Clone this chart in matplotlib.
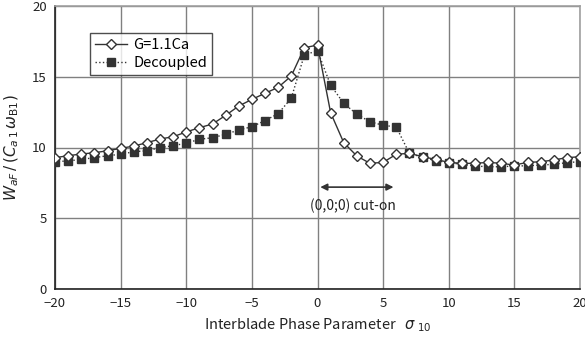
import matplotlib
matplotlib.use("Agg")
import matplotlib.pyplot as plt

sigma = list(range(-20, 21))
coupled = [9.28, 9.42, 9.54, 9.63, 9.77, 9.94, 10.1, 10.34, 10.6, 10.76,
           11.1, 11.4, 11.66, 12.27, 12.93, 13.4, 13.83, 14.25, 15.05, 17.05,
           17.24, 12.46, 10.34, 9.4, 8.88, 8.95, 9.52, 9.59, 9.35, 9.16,
           8.95, 8.88, 8.88, 8.95, 8.88, 8.76, 8.95, 8.99, 9.12, 9.28, 9.35]
decoupled = [9.0, 9.05, 9.16, 9.28, 9.42, 9.52, 9.7, 9.77, 9.99, 10.13,
             10.3, 10.58, 10.69, 10.93, 11.24, 11.47, 11.9, 12.39, 13.48, 16.54,
             16.84, 14.4, 13.12, 12.35, 11.82, 11.57, 11.45, 9.59, 9.31, 9.07,
             8.93, 8.81, 8.69, 8.64, 8.64, 8.69, 8.71, 8.76, 8.81, 8.93, 9.0]
xticks = [-20, -15, -10, -5, 0, 5, 10, 15, 20]
yticks = [0, 5, 10, 15, 20]

plt.rcParams['font.family'] = ['Noto Sans CJK JP', 'DejaVu Sans']
plt.rcParams['mathtext.fontset'] = 'dejavusans'

fig = plt.figure(figsize=(5.85, 3.46), dpi=100)
ax = fig.add_axes([55/585, 57/346, 525/585, 283/346])

dark = '#333333'
ax.plot(sigma, decoupled, linestyle=':', color=dark, linewidth=1.0,
        marker='s', markersize=6, markerfacecolor=dark, markeredgecolor=dark,
        label='Decoupled', zorder=3)
ax.plot(sigma, coupled, linestyle='-', color=dark, linewidth=1.0,
        marker='D', markersize=5.5, markerfacecolor='white', markeredgecolor=dark,
        markeredgewidth=1.0, label='G=1.1Ca', zorder=4)

ax.set_xlim(-20, 20)
ax.set_ylim(0, 20)
ax.set_xticks(xticks)
ax.set_yticks(yticks)
ax.set_xticklabels(['\u221220', '\u221215', '\u221210', '\u22125', '0', '5', '10', '15', '20'])
ax.tick_params(axis='both', length=0, labelsize=9.5, colors='#222222', pad=6)
ax.grid(True, color='#808080', linewidth=1.0)
ax.set_axisbelow(True)
for s in ['top', 'right']:
    ax.spines[s].set_color('#a0a0a0')
    ax.spines[s].set_linewidth(1.2)
for s in ['left', 'bottom']:
    ax.spines[s].set_color('#222222')
    ax.spines[s].set_linewidth(1.2)

ax.set_xlabel('Interblade Phase Parameter   $\\sigma$ $_{10}$', fontsize=10.5, color='#222222', labelpad=4)
ax.set_ylabel('$W_{aF}\\,/\\,(C_{a\\,1}\\,\\omega_{\\mathrm{B1}})$', fontsize=11, color='#222222', labelpad=8)

handles, labels = ax.get_legend_handles_labels()
leg = ax.legend(handles[::-1], labels[::-1], loc='upper left', bbox_to_anchor=(0.067, 0.905),
                borderaxespad=0, frameon=True, fancybox=False, edgecolor='#222222', fontsize=10.5,
                handlelength=2.2, borderpad=0.35, labelspacing=0.3, handletextpad=0.4)
leg.get_frame().set_linewidth(1.0)

ax.annotate('', xy=(6, 7.2), xytext=(0, 7.2),
            arrowprops=dict(arrowstyle='<|-|>', color=dark, lw=1.2, mutation_scale=10))
ax.text(2.7, 5.85, '(0,0;0) cut-on', fontsize=10, ha='center', va='center', color='#222222')

fig.savefig('out.png', dpi=100)
